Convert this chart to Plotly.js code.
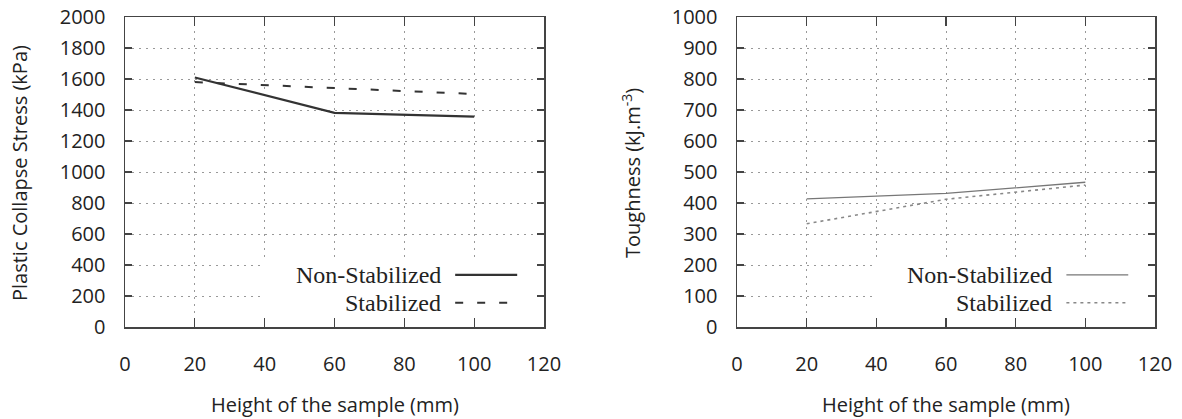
<!DOCTYPE html>
<html>
<head>
<meta charset="utf-8">
<script src="https://cdn.plot.ly/plotly-3.0.1.min.js"></script>
<style>
  html, body { margin: 0; padding: 0; background: #fff; }
  #chart { width: 1182px; height: 419px; }
</style>
</head>
<body>
<div id="chart"></div>
<script>
// Sample heights (mm)
const heights = [20, 60, 100];

// Plastic collapse stress (kPa)
const collapseNonStab = [1610, 1382, 1357];
const collapseStab = [1580, 1542, 1503];

// Toughness (kJ/m^3)
const toughNonStab = [413, 431, 467];
const toughStab = [333, 412, 458];

const seriesNames = ['Non-Stabilized', 'Stabilized'];
const xTicks = [0, 20, 40, 60, 80, 100, 120];
const xTitle = 'Height of the sample (mm)';
const yTitles = ['Plastic Collapse Stress (kPa)', 'Toughness (kJ.m<sup>-3</sup>)'];

const tickFont = { family: 'Open Sans, sans-serif', size: 20, color: '#222' };
const titleFont = { family: 'Open Sans, sans-serif', size: 20, color: '#222' };
const legendFont = { family: 'Liberation Serif, serif', size: 24, color: '#222' };

const frameColor = '#444';
const gridDash = '2px,5px';

// Panel boxes in pixels (plot area spans y 17..327)
const W = 1182, H = 419, T = 17, B = 92;
const panels = [{ x0: 125, x1: 544 }, { x0: 737, x1: 1155 }];
const px = v => v / W;
const py = v => (H - B - v) / (H - T - B);

function xAxis(p, anchor) {
  return {
    domain: [px(p.x0), px(p.x1)], anchor: anchor,
    range: [0, 120], tickvals: xTicks, ticktext: xTicks.map(String),
    showline: true, linecolor: frameColor, linewidth: 1.5, mirror: 'allticks',
    ticks: 'inside', ticklen: 9, tickwidth: 1.2, tickcolor: frameColor,
    showgrid: true, gridcolor: '#999', gridwidth: 1, griddash: gridDash,
    zeroline: false, tickfont: tickFont, ticklabelstandoff: 18,
    automargin: false, fixedrange: true
  };
}

function yAxis(range, dtick, anchor) {
  return {
    domain: [0, 1], anchor: anchor,
    range: range, dtick: dtick, tick0: 0,
    showline: true, linecolor: frameColor, linewidth: 1.5, mirror: 'allticks',
    ticks: 'inside', ticklen: 7, tickwidth: 1.5, tickcolor: frameColor,
    showgrid: true, gridcolor: '#999', gridwidth: 1, griddash: gridDash,
    zeroline: false, tickfont: tickFont, ticklabelstandoff: 14,
    automargin: false, fixedrange: true
  };
}

const traces = [
  { x: heights, y: collapseNonStab, xaxis: 'x', yaxis: 'y', name: seriesNames[0],
    mode: 'lines', line: { color: '#333', width: 2.2 } },
  { x: heights, y: collapseStab, xaxis: 'x', yaxis: 'y', name: seriesNames[1],
    mode: 'lines', line: { color: '#333', width: 2, dash: '8px,14px' } },
  { x: heights, y: toughNonStab, xaxis: 'x2', yaxis: 'y2', name: seriesNames[0],
    mode: 'lines', line: { color: '#777', width: 1.3 } },
  { x: heights, y: toughStab, xaxis: 'x2', yaxis: 'y2', name: seriesNames[1],
    mode: 'lines', line: { color: '#888', width: 1.6, dash: '3px,4px' } }
];

// Key box inside each panel: white panel over the grid, sample lines, labels
function keyParts(xr, yr, styles) {
  const shapes = [{
    type: 'rect', xref: xr + ' domain', yref: yr + ' domain', layer: 'above',
    x0: 0.329, x1: 0.979, y0: 0.03, y1: 0.215,
    fillcolor: '#fff', line: { width: 0 }
  }];
  const annotations = [];
  const rowsY = [0.168, 0.078];
  seriesNames.forEach((name, i) => {
    shapes.push({
      type: 'line', xref: xr + ' domain', yref: yr + ' domain', layer: 'above',
      x0: 0.788, x1: 0.936, y0: rowsY[i], y1: rowsY[i], line: styles[i]
    });
    annotations.push({
      xref: xr + ' domain', yref: yr + ' domain', x: 0.758, y: rowsY[i],
      xanchor: 'right', yanchor: 'middle', showarrow: false,
      text: name, font: legendFont
    });
  });
  return { shapes, annotations };
}

const keyLeft = keyParts('x', 'y', [
  { color: '#333', width: 2.2 },
  { color: '#333', width: 2, dash: '8px,14px' }
]);
const keyRight = keyParts('x2', 'y2', [
  { color: '#777', width: 1.3 },
  { color: '#888', width: 1.6, dash: '3px,4px' }
]);

// Axis titles, placed in paper coordinates beside each panel
const titleNotes = [];
panels.forEach((p, i) => {
  titleNotes.push({
    xref: 'paper', yref: 'paper', x: px((p.x0 + p.x1) / 2), y: py(405),
    xanchor: 'center', yanchor: 'middle', showarrow: false,
    text: xTitle, font: titleFont
  });
  titleNotes.push({
    xref: 'paper', yref: 'paper', x: px(p.x0 - (i === 0 ? 105 : 105)), y: py(173),
    xanchor: 'center', yanchor: 'middle', showarrow: false, textangle: -90,
    text: yTitles[i], font: titleFont
  });
});

const layout = {
  width: W, height: H,
  margin: { l: 0, r: 0, t: T, b: B, pad: 0 },
  paper_bgcolor: '#fff', plot_bgcolor: '#fff',
  showlegend: false,
  xaxis: xAxis(panels[0], 'y'),
  yaxis: yAxis([0, 2000], 200, 'x'),
  xaxis2: xAxis(panels[1], 'y2'),
  yaxis2: yAxis([0, 1000], 100, 'x2'),
  shapes: keyLeft.shapes.concat(keyRight.shapes),
  annotations: keyLeft.annotations.concat(keyRight.annotations, titleNotes)
};

Plotly.newPlot('chart', traces, layout, { staticPlot: true, displayModeBar: false });
</script>
</body>
</html>
